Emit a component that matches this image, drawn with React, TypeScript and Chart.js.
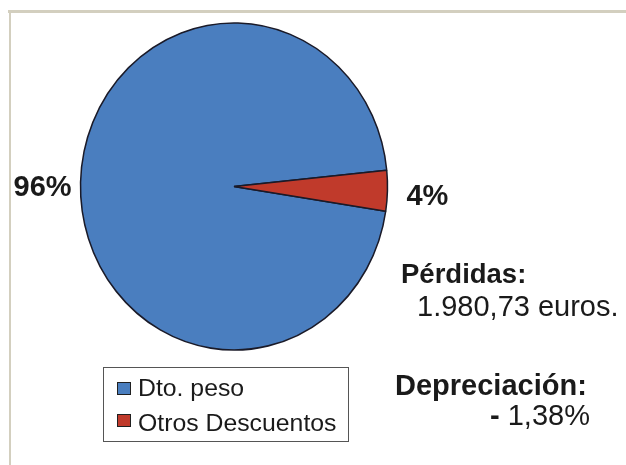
import React, { useEffect, useRef } from "react";
import { Chart, registerables } from "chart.js";

Chart.register(...registerables);

const categories = ["Dto. peso", "Otros Descuentos"];
const shares = [96, 4];
const sliceColors = ["#4a7ebf", "#c03a2b"];
const lossTitle = "Pérdidas:";
const lossValue = "1.980,73 euros.";
const deprTitle = "Depreciación:";
const deprSign = "-";
const deprValue = " 1,38%";

const FONT = '"Liberation Sans", Arial, Helvetica, sans-serif';
const STRETCH_Y = 163.5 / 153.5;

const stretchPlugin = {
  id: "stretchPie",
  beforeDatasetsDraw(chart: any) {
    const arc = chart.getDatasetMeta(0).data[0];
    if (!arc) return;
    const ctx = chart.ctx;
    ctx.save();
    ctx.translate(arc.x, arc.y);
    ctx.scale(1, STRETCH_Y);
    ctx.translate(-arc.x, -arc.y);
  },
  afterDatasetsDraw(chart: any) {
    chart.ctx.restore();
  },
  afterDraw(chart: any) {
    const ctx = chart.ctx;
    const arcs = chart.getDatasetMeta(0).data;
    ctx.save();
    ctx.fillStyle = "#1a1a1a";
    ctx.font = `bold 29px ${FONT}`;
    ctx.textBaseline = "middle";
    arcs.forEach((arc: any, i: number) => {
      const mid = (arc.startAngle + arc.endAngle) / 2;
      const c = Math.cos(mid);
      const s = Math.sin(mid);
      const left = c < 0;
      const pad = left ? 9 : 19;
      const x = arc.x + c * (arc.outerRadius + pad);
      const y = arc.y + s * arc.outerRadius * STRETCH_Y + 6;
      ctx.textAlign = left ? "right" : "left";
      ctx.fillText(`${shares[i]}%`, x, y);
    });
    ctx.restore();
  },
};

function App() {
  const ref = useRef<HTMLCanvasElement | null>(null);

  useEffect(() => {
    if (!ref.current) return;
    const chart = new Chart(ref.current, {
      type: "pie",
      data: {
        labels: categories,
        datasets: [
          {
            data: shares,
            backgroundColor: sliceColors,
            borderColor: "#1a1a28",
            borderWidth: 1.5,
          },
        ],
      },
      options: {
        animation: false,
        responsive: false,
        rotation: 98.7,
        radius: 153.5,
        layout: { padding: { left: 0, right: 158, top: 0, bottom: 92 } },
        plugins: {
          legend: { display: false },
          tooltip: { enabled: false },
          title: { display: false },
        },
      } as any,
      plugins: [stretchPlugin],
    });
    return () => chart.destroy();
  }, []);

  const abs = (left: number, top: number, size: number, bold = false): React.CSSProperties => ({
    position: "absolute",
    left,
    top,
    fontFamily: FONT,
    fontSize: size,
    lineHeight: `${size}px`,
    fontWeight: bold ? "bold" : "normal",
    color: "#1a1a1a",
    whiteSpace: "nowrap",
  });

  return (
    <div
      style={{
        position: "absolute",
        left: 0,
        top: 0,
        width: 626,
        height: 465,
        background: "#ffffff",
        overflow: "hidden",
      }}
    >
      <div style={{ position: "absolute", left: 8, top: 10, width: 618, height: 3, background: "#d3cfbf" }} />
      <div style={{ position: "absolute", left: 9, top: 10, width: 2, height: 455, background: "#d3cfbf" }} />
      <canvas
        ref={ref}
        width={626}
        height={465}
        style={{ position: "absolute", left: 0, top: 0, width: 626, height: 465 }}
      />
      <div style={abs(401, 260, 27.5, true)}>{lossTitle}</div>
      <div style={abs(417, 292.2, 29)}>{lossValue}</div>
      <div style={abs(395, 370.5, 29, true)}>{deprTitle}</div>
      <div style={abs(490, 400.5, 29)}>
        <span style={{ fontWeight: "bold" }}>{deprSign}</span>
        {deprValue}
      </div>
      <div
        style={{
          position: "absolute",
          left: 103,
          top: 367,
          width: 246,
          height: 75,
          boxSizing: "border-box",
          border: "1px solid #555555",
          background: "#ffffff",
        }}
      />
      {categories.map((name, i) => (
        <React.Fragment key={name}>
          <div
            style={{
              position: "absolute",
              left: 117,
              top: 382 + i * 32,
              width: 14,
              height: 13,
              boxSizing: "border-box",
              border: "1px solid #202020",
              background: sliceColors[i],
            }}
          />
          <div style={abs(138, 376 + i * 35, 24.8)}>{name}</div>
        </React.Fragment>
      ))}
    </div>
  );
}

export default App;
